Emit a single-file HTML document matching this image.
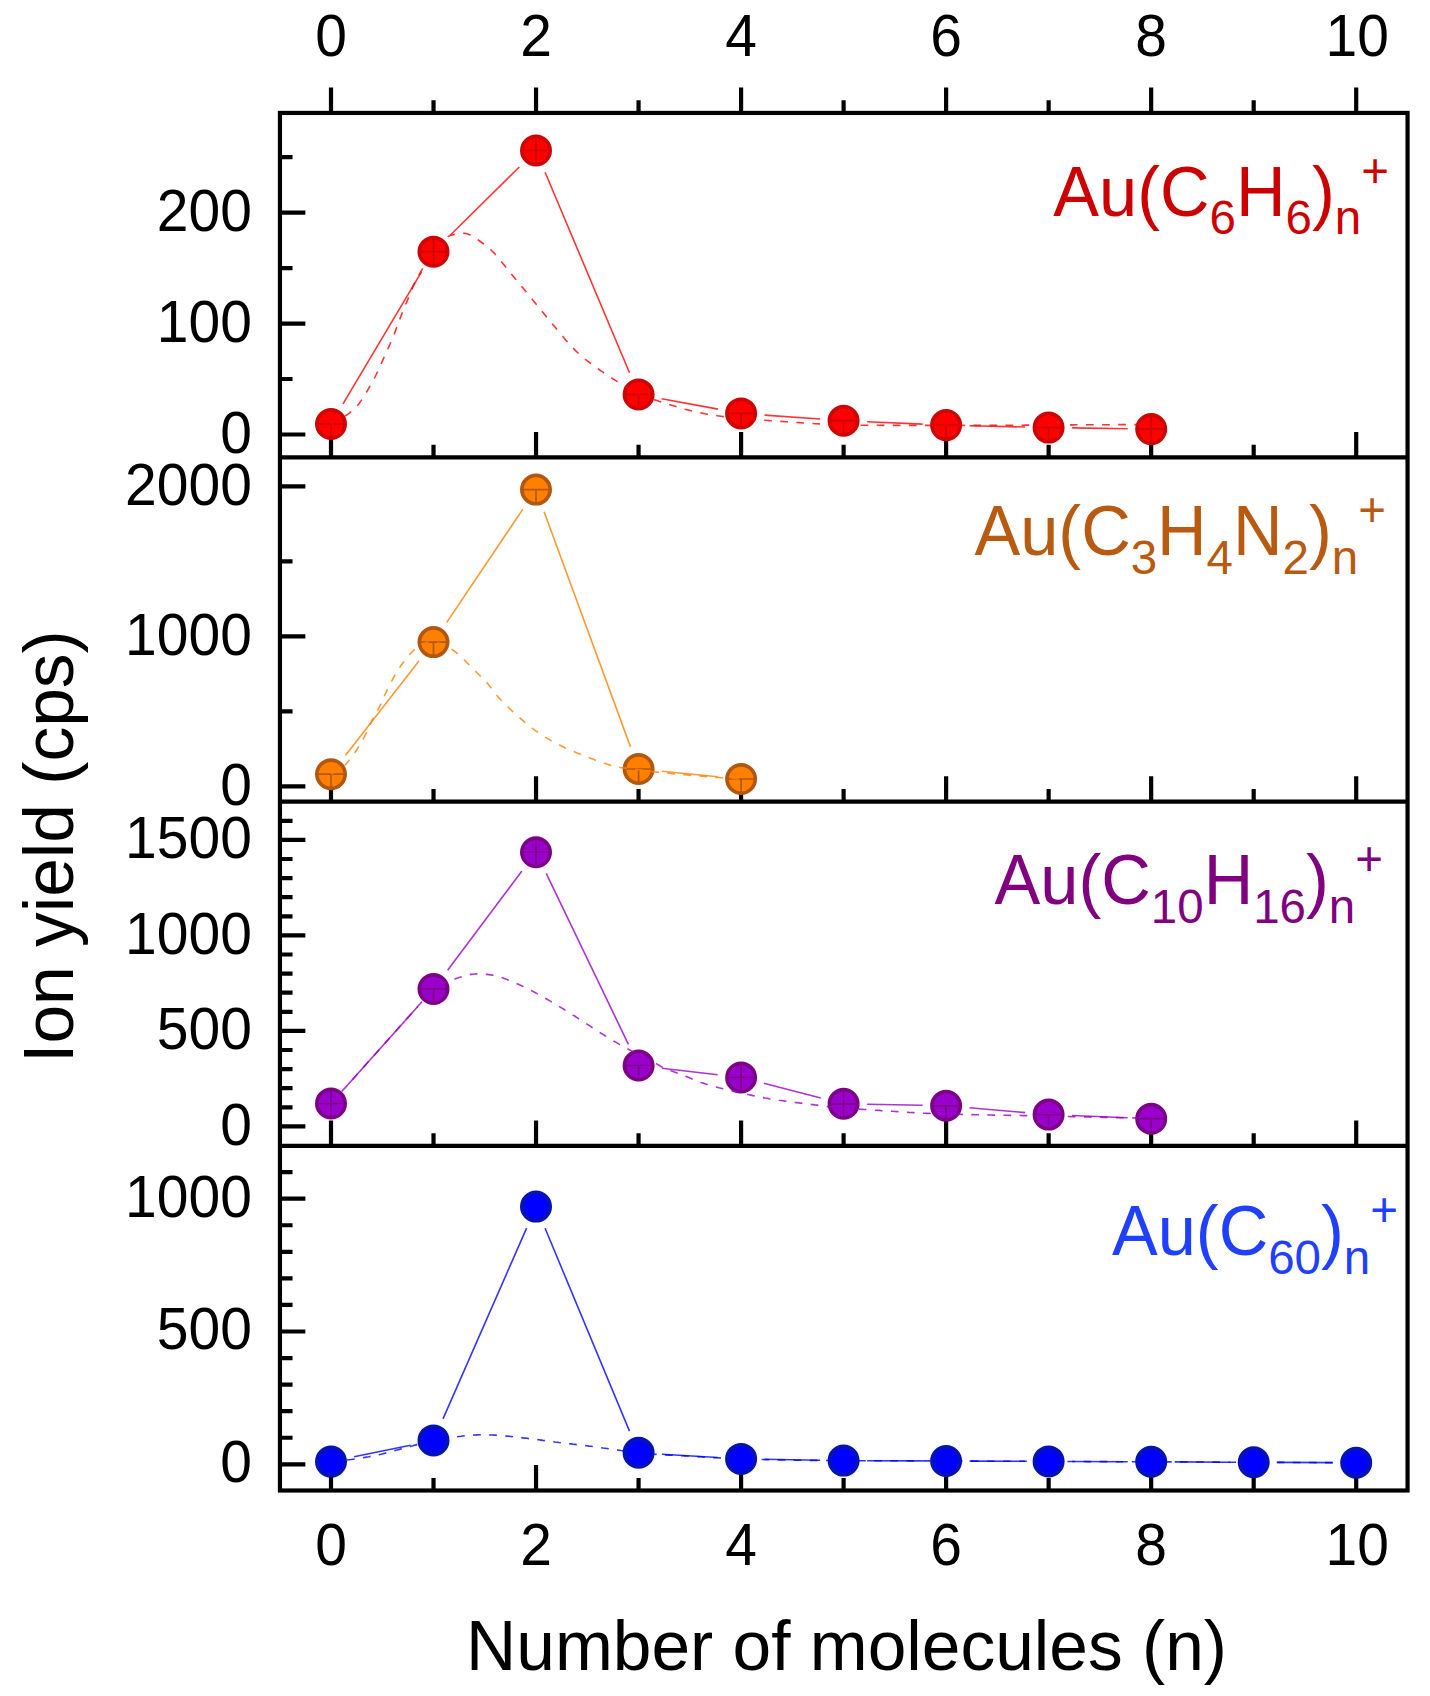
<!DOCTYPE html>
<html><head><meta charset="utf-8"><title>Ion yield</title>
<style>html,body{margin:0;padding:0;background:#fff}svg{display:block}</style>
</head><body>
<svg width="1430" height="1696" viewBox="0 0 1430 1696" font-family="'Liberation Sans', Arial, sans-serif">
<rect width="1430" height="1696" fill="#fff"/>
<g stroke="#000" stroke-width="4.2" fill="none" stroke-linecap="butt">
<rect x="279.95" y="112.95" width="1127.6" height="1377.55"/>
<line x1="279.95" y1="457.45" x2="1407.55" y2="457.45"/>
<line x1="279.95" y1="801.65" x2="1407.55" y2="801.65"/>
<line x1="279.95" y1="1145.95" x2="1407.55" y2="1145.95"/>
<path d="M331.00 112.95 v-25.4 M433.52 112.95 v-12.6 M536.04 112.95 v-25.4 M638.56 112.95 v-12.6 M741.08 112.95 v-25.4 M843.60 112.95 v-12.6 M946.12 112.95 v-25.4 M1048.64 112.95 v-12.6 M1151.16 112.95 v-25.4 M1253.68 112.95 v-12.6 M1356.20 112.95 v-25.4 M331.00 457.45 v-25.4 M433.52 457.45 v-12.6 M536.04 457.45 v-25.4 M638.56 457.45 v-12.6 M741.08 457.45 v-25.4 M843.60 457.45 v-12.6 M946.12 457.45 v-25.4 M1048.64 457.45 v-12.6 M1151.16 457.45 v-25.4 M1253.68 457.45 v-12.6 M1356.20 457.45 v-25.4 M331.00 801.65 v-25.4 M433.52 801.65 v-12.6 M536.04 801.65 v-25.4 M638.56 801.65 v-12.6 M741.08 801.65 v-25.4 M843.60 801.65 v-12.6 M946.12 801.65 v-25.4 M1048.64 801.65 v-12.6 M1151.16 801.65 v-25.4 M1253.68 801.65 v-12.6 M1356.20 801.65 v-25.4 M331.00 1145.95 v-25.4 M433.52 1145.95 v-12.6 M536.04 1145.95 v-25.4 M638.56 1145.95 v-12.6 M741.08 1145.95 v-25.4 M843.60 1145.95 v-12.6 M946.12 1145.95 v-25.4 M1048.64 1145.95 v-12.6 M1151.16 1145.95 v-25.4 M1253.68 1145.95 v-12.6 M1356.20 1145.95 v-25.4 M331.00 1490.5 v-25.4 M433.52 1490.5 v-12.6 M536.04 1490.5 v-25.4 M638.56 1490.5 v-12.6 M741.08 1490.5 v-25.4 M843.60 1490.5 v-12.6 M946.12 1490.5 v-25.4 M1048.64 1490.5 v-12.6 M1151.16 1490.5 v-25.4 M1253.68 1490.5 v-12.6 M1356.20 1490.5 v-25.4"/>
<path d="M279.95 434.50 h25.4 M279.95 323.55 h25.4 M279.95 212.60 h25.4 M279.95 379.02 h12.6 M279.95 268.08 h12.6 M279.95 157.12 h12.6 M279.95 786.40 h25.4 M279.95 636.40 h25.4 M279.95 486.40 h25.4 M279.95 711.40 h12.6 M279.95 561.40 h12.6 M279.95 1126.40 h25.4 M279.95 1030.90 h25.4 M279.95 935.40 h25.4 M279.95 839.90 h25.4 M279.95 1107.30 h12.6 M279.95 1088.20 h12.6 M279.95 1069.10 h12.6 M279.95 1050.00 h12.6 M279.95 1011.80 h12.6 M279.95 992.70 h12.6 M279.95 973.60 h12.6 M279.95 954.50 h12.6 M279.95 916.30 h12.6 M279.95 897.20 h12.6 M279.95 878.10 h12.6 M279.95 859.00 h12.6 M279.95 820.80 h12.6 M279.95 1464.30 h25.4 M279.95 1331.50 h25.4 M279.95 1198.70 h25.4 M279.95 1437.74 h12.6 M279.95 1411.18 h12.6 M279.95 1384.62 h12.6 M279.95 1358.06 h12.6 M279.95 1304.94 h12.6 M279.95 1278.38 h12.6 M279.95 1251.82 h12.6 M279.95 1225.26 h12.6 M279.95 1172.14 h12.6"/>
</g>
<g font-size="57.0" fill="#000">
<text transform="translate(331.0 55.5) scale(1 1.035)" text-anchor="middle">0</text>
<text transform="translate(331.0 1565.0) scale(1 1.035)" text-anchor="middle">0</text>
<text transform="translate(536.0 55.5) scale(1 1.035)" text-anchor="middle">2</text>
<text transform="translate(536.0 1565.0) scale(1 1.035)" text-anchor="middle">2</text>
<text transform="translate(741.1 55.5) scale(1 1.035)" text-anchor="middle">4</text>
<text transform="translate(741.1 1565.0) scale(1 1.035)" text-anchor="middle">4</text>
<text transform="translate(946.1 55.5) scale(1 1.035)" text-anchor="middle">6</text>
<text transform="translate(946.1 1565.0) scale(1 1.035)" text-anchor="middle">6</text>
<text transform="translate(1151.2 55.5) scale(1 1.035)" text-anchor="middle">8</text>
<text transform="translate(1151.2 1565.0) scale(1 1.035)" text-anchor="middle">8</text>
<text transform="translate(1357.2 55.5) scale(1 1.035)" text-anchor="middle">10</text>
<text transform="translate(1357.2 1565.0) scale(1 1.035)" text-anchor="middle">10</text>
<text transform="translate(251.9 453.0) scale(1 1.035)" text-anchor="end">0</text>
<text transform="translate(251.9 342.1) scale(1 1.035)" text-anchor="end">100</text>
<text transform="translate(251.9 231.1) scale(1 1.035)" text-anchor="end">200</text>
<text transform="translate(251.9 804.9) scale(1 1.035)" text-anchor="end">0</text>
<text transform="translate(251.9 654.9) scale(1 1.035)" text-anchor="end">1000</text>
<text transform="translate(251.9 504.9) scale(1 1.035)" text-anchor="end">2000</text>
<text transform="translate(251.9 1144.9) scale(1 1.035)" text-anchor="end">0</text>
<text transform="translate(251.9 1049.4) scale(1 1.035)" text-anchor="end">500</text>
<text transform="translate(251.9 953.9) scale(1 1.035)" text-anchor="end">1000</text>
<text transform="translate(251.9 858.4) scale(1 1.035)" text-anchor="end">1500</text>
<text transform="translate(251.9 1482.1) scale(1 1.035)" text-anchor="end">0</text>
<text transform="translate(251.9 1349.3) scale(1 1.035)" text-anchor="end">500</text>
<text transform="translate(251.9 1216.5) scale(1 1.035)" text-anchor="end">1000</text>
</g>
<text x="846.5" y="1669.5" font-size="69.5" text-anchor="middle" fill="#000">Number of molecules (n)</text>
<text transform="translate(72.5 846.6) rotate(-90)" font-size="69.5" text-anchor="middle" fill="#000">Ion yield (cps)</text>
<path d="M343.0 403.8L421.5 271.9M450.2 235.2L519.3 167.0M545.1 172.2L629.5 372.8M661.7 398.8L718.0 409.1M764.5 415.1L820.2 419.0M867.1 421.7L922.6 424.1M969.6 425.7L1025.1 427.0M1072.1 427.9L1127.7 428.8" fill="none" stroke="#ff0000" stroke-opacity="0.8" stroke-width="1.6"/>
<circle cx="331.0" cy="424.0" r="14.15" fill="#ff0000" stroke="#cc0505" stroke-width="3.7"/>
<path d="M318.0 424.0h26M331.0 424.0v13" stroke="#cc0505" stroke-width="1.7" fill="none"/>
<circle cx="433.5" cy="251.7" r="14.15" fill="#ff0000" stroke="#cc0505" stroke-width="3.7"/>
<path d="M420.5 251.7h26M433.5 251.7v13M433.5 251.7v-13" stroke="#cc0505" stroke-width="1.7" fill="none"/>
<circle cx="536.0" cy="150.5" r="14.15" fill="#ff0000" stroke="#cc0505" stroke-width="3.7"/>
<path d="M523.0 150.5h26M536.0 150.5v13M536.0 150.5v-13" stroke="#cc0505" stroke-width="1.7" fill="none"/>
<circle cx="638.6" cy="394.5" r="14.15" fill="#ff0000" stroke="#cc0505" stroke-width="3.7"/>
<path d="M625.6 394.5h26M638.6 394.5v13" stroke="#cc0505" stroke-width="1.7" fill="none"/>
<circle cx="741.1" cy="413.4" r="14.15" fill="#ff0000" stroke="#cc0505" stroke-width="3.7"/>
<path d="M728.1 413.4h26M741.1 413.4v13" stroke="#cc0505" stroke-width="1.7" fill="none"/>
<circle cx="843.6" cy="420.7" r="14.15" fill="#ff0000" stroke="#cc0505" stroke-width="3.7"/>
<path d="M830.6 420.7h26M843.6 420.7v13" stroke="#cc0505" stroke-width="1.7" fill="none"/>
<circle cx="946.1" cy="425.1" r="14.15" fill="#ff0000" stroke="#cc0505" stroke-width="3.7"/>
<path d="M933.1 425.1h26M946.1 425.1v13" stroke="#cc0505" stroke-width="1.7" fill="none"/>
<circle cx="1048.6" cy="427.6" r="14.15" fill="#ff0000" stroke="#cc0505" stroke-width="3.7"/>
<path d="M1035.6 427.6h26M1048.6 427.6v13" stroke="#cc0505" stroke-width="1.7" fill="none"/>
<circle cx="1151.2" cy="429.1" r="14.15" fill="#ff0000" stroke="#cc0505" stroke-width="3.7"/>
<path d="M1138.2 429.1h26M1151.2 429.1v13M1151.2 429.1v-13" stroke="#cc0505" stroke-width="1.7" fill="none"/>
<polyline points="331.0,424.0 333.0,423.2 335.0,422.2 337.0,421.2 339.0,420.1 341.0,418.8 343.0,417.6 345.0,416.2 347.0,414.8 349.0,413.4 351.0,411.8 353.0,410.1 355.0,408.2 357.0,406.1 359.0,403.7 361.0,400.9 363.0,397.9 365.0,394.7 367.0,391.3 369.0,387.8 371.0,384.3 373.0,380.8 375.0,377.0 377.0,372.8 379.0,368.5 381.0,364.1 383.0,359.7 385.0,355.3 387.0,350.9 389.0,346.5 391.0,341.9 393.0,337.1 395.0,332.1 397.0,326.9 399.0,321.4 401.0,316.1 403.0,311.1 405.0,306.3 407.0,301.4 409.0,296.5 411.0,291.5 413.0,286.6 415.0,282.2 417.0,278.5 419.0,274.9 421.0,271.4 423.0,267.9 425.0,264.6 427.0,261.3 429.0,258.1 431.0,255.0 433.0,252.1 435.0,249.3 437.0,246.6 439.0,244.2 441.0,242.1 443.0,240.2 445.0,238.5 447.0,237.2 449.0,236.1 451.0,235.3 453.0,234.7 455.0,234.2 457.0,233.9 459.0,233.6 461.0,233.4 463.0,233.3 465.0,233.4 467.0,233.8 469.0,234.4 471.0,235.4 473.0,236.5 475.0,237.8 477.0,239.1 479.0,240.5 481.0,242.0 483.0,243.5 485.0,245.1 487.0,246.6 489.0,248.3 491.0,250.0 493.0,251.9 495.0,254.0 497.0,256.4 499.0,258.8 501.0,261.3 503.0,263.7 505.0,266.1 507.0,268.6 509.0,271.0 511.0,273.5 513.0,275.9 515.0,278.4 517.0,280.8 519.0,283.2 521.0,285.7 523.0,288.1 525.0,290.6 527.0,293.0 529.0,295.5 531.0,297.9 533.0,300.3 535.0,302.8 537.0,305.2 539.0,307.7 541.0,310.1 543.0,312.5 545.0,314.9 547.0,317.4 549.0,319.8 551.0,322.2 553.0,324.7 555.0,327.1 557.0,329.5 559.0,331.9 561.0,334.4 563.0,336.8 565.0,339.2 567.0,341.5 569.0,343.8 571.0,346.0 573.0,348.0 575.0,350.1 577.0,352.0 579.0,353.9 581.0,355.7 583.0,357.4 585.0,359.1 587.0,360.7 589.0,362.2 591.0,363.7 593.0,365.2 595.0,366.7 597.0,368.1 599.0,369.5 601.0,370.9 603.0,372.2 605.0,373.6 607.0,374.9 609.0,376.2 611.0,377.5 613.0,378.8 615.0,380.1 617.0,381.4 619.0,382.6 621.0,383.9 623.0,385.2 625.0,386.5 627.0,387.8 629.0,389.1 631.0,390.3 633.0,391.5 635.0,392.6 637.0,393.6 639.0,394.5 641.0,395.3 643.0,396.1 645.0,396.8 647.0,397.5 649.0,398.1 651.0,398.8 653.0,399.4 655.0,400.0 657.0,400.6 659.0,401.3 661.0,401.9 663.0,402.5 665.0,403.2 667.0,403.8 669.0,404.4 671.0,405.1 673.0,405.7 675.0,406.3 677.0,406.9 679.0,407.5 681.0,408.1 683.0,408.6 685.0,409.2 687.0,409.7 689.0,410.2 691.0,410.7 693.0,411.2 695.0,411.7 697.0,412.1 699.0,412.6 701.0,413.0 703.0,413.4 705.0,413.8 707.0,414.1 709.0,414.5 711.0,414.8 713.0,415.1 715.0,415.4 717.0,415.7 719.0,416.0 721.0,416.3 723.0,416.6 725.0,416.9 727.0,417.1 729.0,417.4 731.0,417.6 733.0,417.9 735.0,418.1 737.0,418.3 739.0,418.5 741.0,418.7 743.0,418.8 745.0,419.0 747.0,419.1 749.0,419.2 751.0,419.4 753.0,419.5 755.0,419.6 757.0,419.8 759.0,419.9 761.0,420.0 763.0,420.2 765.0,420.3 767.0,420.5 769.0,420.6 771.0,420.7 773.0,420.9 775.0,421.0 777.0,421.1 779.0,421.3 781.0,421.4 783.0,421.5 785.0,421.7 787.0,421.8 789.0,421.9 791.0,422.1 793.0,422.2 795.0,422.3 797.0,422.5 799.0,422.6 801.0,422.7 803.0,422.9 805.0,423.0 807.0,423.1 809.0,423.3 811.0,423.4 813.0,423.5 815.0,423.7 817.0,423.8 819.0,423.9 821.0,424.1 823.0,424.2 825.0,424.3 827.0,424.4 829.0,424.5 831.0,424.6 833.0,424.7 835.0,424.8 837.0,424.8 839.0,424.9 841.0,424.9 843.0,425.0 845.0,425.0 847.0,425.0 849.0,425.1 851.0,425.1 853.0,425.1 855.0,425.1 857.0,425.2 859.0,425.2 861.0,425.2 863.0,425.2 865.0,425.2 867.0,425.3 869.0,425.3 871.0,425.3 873.0,425.3 875.0,425.3 877.0,425.3 879.0,425.3 881.0,425.4 883.0,425.4 885.0,425.4 887.0,425.4 889.0,425.4 891.0,425.4 893.0,425.4 895.0,425.4 897.0,425.4 899.0,425.4 901.0,425.4 903.0,425.4 905.0,425.4 907.0,425.4 909.0,425.4 911.0,425.4 913.0,425.4 915.0,425.4 917.0,425.4 919.0,425.4 921.0,425.4 923.0,425.4 925.0,425.4 927.0,425.4 929.0,425.4 931.0,425.4 933.0,425.4 935.0,425.4 937.0,425.4 939.0,425.4 941.0,425.4 943.0,425.4 945.0,425.4 947.0,425.4 949.0,425.4 951.0,425.4 953.0,425.4 955.0,425.4 957.0,425.4 959.0,425.4 961.0,425.4 963.0,425.4 965.0,425.4 967.0,425.4 969.0,425.4 971.0,425.4 973.0,425.4 975.0,425.4 977.0,425.4 979.0,425.4 981.0,425.4 983.0,425.4 985.0,425.4 987.0,425.4 989.0,425.3 991.0,425.3 993.0,425.3 995.0,425.3 997.0,425.3 999.0,425.3 1001.0,425.3 1003.0,425.3 1005.0,425.3 1007.0,425.3 1009.0,425.2 1011.0,425.2 1013.0,425.2 1015.0,425.2 1017.0,425.2 1019.0,425.2 1021.0,425.2 1023.0,425.2 1025.0,425.1 1027.0,425.1 1029.0,425.1 1031.0,425.1 1033.0,425.1 1035.0,425.1 1037.0,425.1 1039.0,425.1 1041.0,425.0 1043.0,425.0 1045.0,425.0 1047.0,425.0 1049.0,425.0 1051.0,425.0 1053.0,425.0 1055.0,425.0 1057.0,424.9 1059.0,424.9 1061.0,424.9 1063.0,424.9 1065.0,424.9 1067.0,424.9 1069.0,424.9 1071.0,424.9 1073.0,424.9 1075.0,424.8 1077.0,424.8 1079.0,424.8 1081.0,424.8 1083.0,424.8 1085.0,424.8 1087.0,424.8 1089.0,424.8 1091.0,424.7 1093.0,424.7 1095.0,424.7 1097.0,424.7 1099.0,424.7 1101.0,424.7 1103.0,424.7 1105.0,424.7 1107.0,424.7 1109.0,424.7 1111.0,424.7 1113.0,424.6 1115.0,424.6 1117.0,424.6 1119.0,424.6 1121.0,424.6 1123.0,424.6 1125.0,424.6 1127.0,424.6 1129.0,424.6 1131.0,424.6 1133.0,424.6 1135.0,424.6 1137.0,424.6 1139.0,424.6 1141.0,424.6 1143.0,424.6 1145.0,424.6 1147.0,424.6 1149.0,424.6" fill="none" stroke="#ff0000" stroke-opacity="0.8" stroke-width="1.6" stroke-dasharray="7.7 8.4"/>
<path d="M345.4 755.6L419.1 660.7M446.6 622.6L522.9 509.1M544.1 511.7L630.5 746.9M661.9 771.3L717.7 776.7" fill="none" stroke="#ff8000" stroke-opacity="0.8" stroke-width="1.6"/>
<circle cx="331.0" cy="774.2" r="14.15" fill="#ff8000" stroke="#b2570f" stroke-width="3.7"/>
<path d="M318.0 774.2h26M331.0 774.2v13" stroke="#b2570f" stroke-width="1.7" fill="none"/>
<circle cx="433.5" cy="642.1" r="14.15" fill="#ff8000" stroke="#b2570f" stroke-width="3.7"/>
<path d="M420.5 642.1h26M433.5 642.1v13" stroke="#b2570f" stroke-width="1.7" fill="none"/>
<circle cx="536.0" cy="489.6" r="14.15" fill="#ff8000" stroke="#b2570f" stroke-width="3.7"/>
<path d="M523.0 489.6h26M536.0 489.6v13" stroke="#b2570f" stroke-width="1.7" fill="none"/>
<circle cx="638.6" cy="769.0" r="14.15" fill="#ff8000" stroke="#b2570f" stroke-width="3.7"/>
<path d="M625.6 769.0h26M638.6 769.0v13" stroke="#b2570f" stroke-width="1.7" fill="none"/>
<circle cx="741.1" cy="779.0" r="14.15" fill="#ff8000" stroke="#b2570f" stroke-width="3.7"/>
<path d="M728.1 779.0h26M741.1 779.0v13" stroke="#b2570f" stroke-width="1.7" fill="none"/>
<polyline points="331.0,774.0 333.0,773.3 335.0,772.4 337.0,771.4 339.0,770.1 341.0,768.6 343.0,767.0 345.0,765.0 347.0,762.8 349.0,760.5 351.0,757.9 353.0,755.2 355.0,752.4 357.0,749.3 359.0,746.2 361.0,742.9 363.0,739.4 365.0,735.7 367.0,731.7 369.0,727.2 371.0,722.6 373.0,718.4 375.0,714.9 377.0,711.5 379.0,707.8 381.0,703.5 383.0,698.9 385.0,694.5 387.0,690.3 389.0,686.3 391.0,682.4 393.0,678.6 395.0,675.0 397.0,671.7 399.0,668.5 401.0,665.5 403.0,662.7 405.0,660.1 407.0,657.6 409.0,655.3 411.0,653.1 413.0,651.0 415.0,649.0 417.0,647.3 419.0,645.8 421.0,644.6 423.0,643.6 425.0,642.9 427.0,642.4 429.0,642.0 431.0,641.9 433.0,642.0 435.0,642.2 437.0,642.6 439.0,643.1 441.0,643.7 443.0,644.4 445.0,645.3 447.0,646.2 449.0,647.3 451.0,648.6 453.0,650.1 455.0,651.6 457.0,653.2 459.0,654.9 461.0,656.8 463.0,658.7 465.0,660.7 467.0,662.7 469.0,664.7 471.0,666.7 473.0,668.7 475.0,670.7 477.0,672.7 479.0,674.7 481.0,676.7 483.0,678.7 485.0,680.7 487.0,682.8 489.0,685.2 491.0,687.7 493.0,690.3 495.0,693.0 497.0,695.5 499.0,697.9 501.0,700.0 503.0,702.1 505.0,704.1 507.0,706.1 509.0,708.0 511.0,709.9 513.0,711.8 515.0,713.6 517.0,715.4 519.0,717.1 521.0,718.9 523.0,720.6 525.0,722.3 527.0,723.9 529.0,725.6 531.0,727.2 533.0,728.8 535.0,730.3 537.0,731.7 539.0,733.1 541.0,734.5 543.0,735.8 545.0,737.1 547.0,738.3 549.0,739.4 551.0,740.6 553.0,741.6 555.0,742.7 557.0,743.8 559.0,744.8 561.0,745.8 563.0,746.8 565.0,747.8 567.0,748.7 569.0,749.6 571.0,750.4 573.0,751.3 575.0,752.1 577.0,752.9 579.0,753.7 581.0,754.5 583.0,755.3 585.0,756.1 587.0,756.9 589.0,757.6 591.0,758.4 593.0,759.1 595.0,759.9 597.0,760.6 599.0,761.3 601.0,762.0 603.0,762.7 605.0,763.4 607.0,764.1 609.0,764.7 611.0,765.3 613.0,765.9 615.0,766.4 617.0,766.8 619.0,767.2 621.0,767.6 623.0,767.9 625.0,768.1 627.0,768.4 629.0,768.6 631.0,768.8 633.0,769.0 635.0,769.2 637.0,769.4 639.0,769.7 641.0,769.9 643.0,770.2 645.0,770.5 647.0,770.8 649.0,771.1 651.0,771.4 653.0,771.6 655.0,771.9 657.0,772.1 659.0,772.3 661.0,772.5 663.0,772.7 665.0,772.9 667.0,773.1 669.0,773.3 671.0,773.5 673.0,773.7 675.0,773.9 677.0,774.0 679.0,774.2 681.0,774.4 683.0,774.6 685.0,774.8 687.0,774.9 689.0,775.1 691.0,775.3 693.0,775.4 695.0,775.6 697.0,775.8 699.0,775.9 701.0,776.1 703.0,776.2 705.0,776.4 707.0,776.6 709.0,776.7 711.0,776.9 713.0,777.0 715.0,777.2 717.0,777.4 719.0,777.5 721.0,777.7 723.0,777.8 725.0,778.0 727.0,778.1 729.0,778.3 731.0,778.5 733.0,778.6 735.0,778.8 737.0,778.9 739.0,779.0 741.0,779.2" fill="none" stroke="#ff8000" stroke-opacity="0.8" stroke-width="1.6" stroke-dasharray="7.7 8.4"/>
<path d="M346.7 1086.0L417.8 1006.5M447.6 970.2L521.9 871.0M546.2 873.4L628.4 1044.3M661.9 1068.2L717.7 1074.8M763.8 1083.3L820.8 1098.0M867.1 1104.3L922.6 1105.3M969.5 1107.8L1025.2 1112.6M1072.1 1115.5L1127.7 1117.8" fill="none" stroke="#9900cc" stroke-opacity="0.8" stroke-width="1.6"/>
<circle cx="331.0" cy="1103.5" r="14.15" fill="#9900cc" stroke="#7e0086" stroke-width="3.7"/>
<path d="M318.0 1103.5h26M331.0 1103.5v13M331.0 1103.5v-13" stroke="#7e0086" stroke-width="1.7" fill="none"/>
<circle cx="433.5" cy="989.0" r="14.15" fill="#9900cc" stroke="#7e0086" stroke-width="3.7"/>
<path d="M420.5 989.0h26M433.5 989.0v13" stroke="#7e0086" stroke-width="1.7" fill="none"/>
<circle cx="536.0" cy="852.2" r="14.15" fill="#9900cc" stroke="#7e0086" stroke-width="3.7"/>
<path d="M523.0 852.2h26M536.0 852.2v13M536.0 852.2v-13" stroke="#7e0086" stroke-width="1.7" fill="none"/>
<circle cx="638.6" cy="1065.5" r="14.15" fill="#9900cc" stroke="#7e0086" stroke-width="3.7"/>
<path d="M625.6 1065.5h26M638.6 1065.5v13" stroke="#7e0086" stroke-width="1.7" fill="none"/>
<circle cx="741.1" cy="1077.5" r="14.15" fill="#9900cc" stroke="#7e0086" stroke-width="3.7"/>
<path d="M728.1 1077.5h26M741.1 1077.5v13M741.1 1077.5v-13" stroke="#7e0086" stroke-width="1.7" fill="none"/>
<circle cx="843.6" cy="1103.8" r="14.15" fill="#9900cc" stroke="#7e0086" stroke-width="3.7"/>
<path d="M830.6 1103.8h26M843.6 1103.8v13M843.6 1103.8v-13" stroke="#7e0086" stroke-width="1.7" fill="none"/>
<circle cx="946.1" cy="1105.8" r="14.15" fill="#9900cc" stroke="#7e0086" stroke-width="3.7"/>
<path d="M933.1 1105.8h26M946.1 1105.8v13" stroke="#7e0086" stroke-width="1.7" fill="none"/>
<circle cx="1048.6" cy="1114.6" r="14.15" fill="#9900cc" stroke="#7e0086" stroke-width="3.7"/>
<path d="M1035.6 1114.6h26M1048.6 1114.6v13" stroke="#7e0086" stroke-width="1.7" fill="none"/>
<circle cx="1151.2" cy="1118.7" r="14.15" fill="#9900cc" stroke="#7e0086" stroke-width="3.7"/>
<path d="M1138.2 1118.7h26M1151.2 1118.7v13" stroke="#7e0086" stroke-width="1.7" fill="none"/>
<polyline points="331.0,1103.5 333.0,1101.3 335.0,1099.0 337.0,1096.8 339.0,1094.6 341.0,1092.4 343.0,1090.1 345.0,1087.9 347.0,1085.7 349.0,1083.4 351.0,1081.2 353.0,1079.0 355.0,1076.7 357.0,1074.5 359.0,1072.3 361.0,1070.0 363.0,1067.8 365.0,1065.6 367.0,1063.3 369.0,1061.1 371.0,1058.9 373.0,1056.6 375.0,1054.4 377.0,1052.2 379.0,1049.9 381.0,1047.7 383.0,1045.5 385.0,1043.2 387.0,1041.0 389.0,1038.8 391.0,1036.5 393.0,1034.3 395.0,1032.0 397.0,1029.8 399.0,1027.5 401.0,1025.2 403.0,1023.0 405.0,1020.7 407.0,1018.5 409.0,1016.2 411.0,1014.0 413.0,1011.7 415.0,1009.5 417.0,1007.2 419.0,1005.0 421.0,1002.7 423.0,1000.5 425.0,998.3 427.0,996.1 429.0,993.8 431.0,991.6 433.0,989.4 435.0,987.4 437.0,985.8 439.0,984.7 441.0,983.8 443.0,983.1 445.0,982.5 447.0,982.0 449.0,981.4 451.0,980.6 453.0,979.8 455.0,979.1 457.0,978.3 459.0,977.6 461.0,976.9 463.0,976.3 465.0,975.7 467.0,975.1 469.0,974.7 471.0,974.4 473.0,974.2 475.0,974.0 477.0,973.9 479.0,973.9 481.0,974.0 483.0,974.1 485.0,974.2 487.0,974.4 489.0,974.6 491.0,974.9 493.0,975.2 495.0,975.6 497.0,976.1 499.0,976.6 501.0,977.2 503.0,978.0 505.0,978.7 507.0,979.5 509.0,980.3 511.0,981.1 513.0,981.9 515.0,982.8 517.0,983.7 519.0,984.6 521.0,985.5 523.0,986.5 525.0,987.4 527.0,988.4 529.0,989.4 531.0,990.4 533.0,991.4 535.0,992.5 537.0,993.6 539.0,994.7 541.0,995.8 543.0,996.9 545.0,998.1 547.0,999.2 549.0,1000.4 551.0,1001.6 553.0,1002.8 555.0,1004.0 557.0,1005.2 559.0,1006.4 561.0,1007.6 563.0,1008.8 565.0,1010.1 567.0,1011.3 569.0,1012.6 571.0,1013.8 573.0,1015.1 575.0,1016.3 577.0,1017.6 579.0,1018.9 581.0,1020.1 583.0,1021.4 585.0,1022.8 587.0,1024.1 589.0,1025.4 591.0,1026.7 593.0,1028.1 595.0,1029.4 597.0,1030.6 599.0,1031.9 601.0,1033.2 603.0,1034.4 605.0,1035.7 607.0,1036.9 609.0,1038.2 611.0,1039.4 613.0,1040.6 615.0,1041.8 617.0,1042.9 619.0,1044.1 621.0,1045.2 623.0,1046.3 625.0,1047.4 627.0,1048.5 629.0,1049.5 631.0,1050.6 633.0,1051.6 635.0,1052.6 637.0,1053.7 639.0,1054.7 641.0,1055.7 643.0,1056.8 645.0,1057.8 647.0,1058.9 649.0,1059.9 651.0,1060.9 653.0,1062.0 655.0,1063.0 657.0,1064.1 659.0,1065.3 661.0,1066.5 663.0,1067.5 665.0,1068.4 667.0,1069.3 669.0,1070.0 671.0,1070.8 673.0,1071.5 675.0,1072.2 677.0,1072.9 679.0,1073.6 681.0,1074.4 683.0,1075.2 685.0,1076.0 687.0,1076.8 689.0,1077.6 691.0,1078.5 693.0,1079.3 695.0,1080.1 697.0,1080.9 699.0,1081.6 701.0,1082.4 703.0,1083.1 705.0,1083.8 707.0,1084.4 709.0,1085.0 711.0,1085.6 713.0,1086.2 715.0,1086.7 717.0,1087.2 719.0,1087.8 721.0,1088.2 723.0,1088.7 725.0,1089.2 727.0,1089.7 729.0,1090.2 731.0,1090.7 733.0,1091.1 735.0,1091.6 737.0,1092.1 739.0,1092.5 741.0,1093.0 743.0,1093.4 745.0,1093.8 747.0,1094.3 749.0,1094.7 751.0,1095.1 753.0,1095.6 755.0,1096.0 757.0,1096.4 759.0,1096.8 761.0,1097.2 763.0,1097.6 765.0,1098.0 767.0,1098.3 769.0,1098.7 771.0,1099.0 773.0,1099.4 775.0,1099.7 777.0,1100.0 779.0,1100.3 781.0,1100.5 783.0,1100.8 785.0,1101.1 787.0,1101.3 789.0,1101.6 791.0,1101.8 793.0,1102.1 795.0,1102.4 797.0,1102.6 799.0,1102.9 801.0,1103.1 803.0,1103.4 805.0,1103.6 807.0,1103.9 809.0,1104.1 811.0,1104.4 813.0,1104.6 815.0,1104.9 817.0,1105.1 819.0,1105.4 821.0,1105.6 823.0,1105.9 825.0,1106.1 827.0,1106.4 829.0,1106.6 831.0,1106.8 833.0,1107.0 835.0,1107.2 837.0,1107.4 839.0,1107.6 841.0,1107.8 843.0,1108.0 845.0,1108.1 847.0,1108.3 849.0,1108.4 851.0,1108.5 853.0,1108.7 855.0,1108.8 857.0,1109.0 859.0,1109.1 861.0,1109.2 863.0,1109.4 865.0,1109.5 867.0,1109.6 869.0,1109.8 871.0,1109.9 873.0,1110.0 875.0,1110.2 877.0,1110.3 879.0,1110.4 881.0,1110.6 883.0,1110.7 885.0,1110.8 887.0,1111.0 889.0,1111.1 891.0,1111.2 893.0,1111.3 895.0,1111.5 897.0,1111.6 899.0,1111.7 901.0,1111.9 903.0,1112.0 905.0,1112.1 907.0,1112.2 909.0,1112.4 911.0,1112.5 913.0,1112.6 915.0,1112.7 917.0,1112.8 919.0,1112.9 921.0,1113.1 923.0,1113.2 925.0,1113.3 927.0,1113.4 929.0,1113.4 931.0,1113.5 933.0,1113.6 935.0,1113.7 937.0,1113.7 939.0,1113.8 941.0,1113.9 943.0,1113.9 945.0,1114.0 947.0,1114.0 949.0,1114.1 951.0,1114.1 953.0,1114.2 955.0,1114.2 957.0,1114.3 959.0,1114.3 961.0,1114.4 963.0,1114.4 965.0,1114.5 967.0,1114.5 969.0,1114.6 971.0,1114.6 973.0,1114.6 975.0,1114.7 977.0,1114.7 979.0,1114.8 981.0,1114.8 983.0,1114.9 985.0,1114.9 987.0,1114.9 989.0,1115.0 991.0,1115.0 993.0,1115.1 995.0,1115.1 997.0,1115.1 999.0,1115.2 1001.0,1115.2 1003.0,1115.3 1005.0,1115.3 1007.0,1115.3 1009.0,1115.4 1011.0,1115.4 1013.0,1115.4 1015.0,1115.5 1017.0,1115.5 1019.0,1115.5 1021.0,1115.5 1023.0,1115.6 1025.0,1115.6 1027.0,1115.6 1029.0,1115.7 1031.0,1115.7 1033.0,1115.7 1035.0,1115.8 1037.0,1115.8 1039.0,1115.8 1041.0,1115.9 1043.0,1115.9 1045.0,1115.9 1047.0,1116.0 1049.0,1116.0 1051.0,1116.1 1053.0,1116.1 1055.0,1116.1 1057.0,1116.2 1059.0,1116.2 1061.0,1116.3 1063.0,1116.3 1065.0,1116.4 1067.0,1116.4 1069.0,1116.5 1071.0,1116.6 1073.0,1116.6 1075.0,1116.7 1077.0,1116.7 1079.0,1116.8 1081.0,1116.8 1083.0,1116.9 1085.0,1116.9 1087.0,1117.0 1089.0,1117.0 1091.0,1117.1 1093.0,1117.1 1095.0,1117.2 1097.0,1117.2 1099.0,1117.3 1101.0,1117.3 1103.0,1117.4 1105.0,1117.4 1107.0,1117.4 1109.0,1117.5 1111.0,1117.5 1113.0,1117.6 1115.0,1117.6 1117.0,1117.6 1119.0,1117.7 1121.0,1117.7 1123.0,1117.8 1125.0,1117.8 1127.0,1117.8 1129.0,1117.9 1131.0,1117.9 1133.0,1117.9 1135.0,1118.0 1137.0,1118.0 1139.0,1118.0 1141.0,1118.1 1143.0,1118.1 1145.0,1118.1 1147.0,1118.1 1149.0,1118.2" fill="none" stroke="#9900cc" stroke-opacity="0.8" stroke-width="1.6" stroke-dasharray="7.7 8.4"/>
<path d="M354.0 1456.8L410.5 1445.2M443.0 1418.9L526.6 1228.1M545.1 1228.3L629.5 1431.1M662.0 1454.2L717.6 1457.5M764.6 1459.3L820.1 1460.2M867.1 1460.7L922.6 1460.9M969.6 1461.1L1025.1 1461.3M1072.1 1461.5L1127.7 1461.7M1174.7 1461.9L1230.2 1462.2M1277.2 1462.4L1332.7 1462.6" fill="none" stroke="#0000ff" stroke-opacity="0.8" stroke-width="1.6"/>
<circle cx="331.0" cy="1461.6" r="13.95" fill="#0000ff" stroke="#0412b8" stroke-width="4.1"/>
<circle cx="433.5" cy="1440.4" r="13.95" fill="#0000ff" stroke="#0412b8" stroke-width="4.1"/>
<circle cx="536.0" cy="1206.6" r="13.95" fill="#0000ff" stroke="#0412b8" stroke-width="4.1"/>
<circle cx="638.6" cy="1452.8" r="13.95" fill="#0000ff" stroke="#0412b8" stroke-width="4.1"/>
<circle cx="741.1" cy="1458.9" r="13.95" fill="#0000ff" stroke="#0412b8" stroke-width="4.1"/>
<circle cx="843.6" cy="1460.6" r="13.95" fill="#0000ff" stroke="#0412b8" stroke-width="4.1"/>
<circle cx="946.1" cy="1461.0" r="13.95" fill="#0000ff" stroke="#0412b8" stroke-width="4.1"/>
<circle cx="1048.6" cy="1461.4" r="13.95" fill="#0000ff" stroke="#0412b8" stroke-width="4.1"/>
<circle cx="1151.2" cy="1461.8" r="13.95" fill="#0000ff" stroke="#0412b8" stroke-width="4.1"/>
<circle cx="1253.7" cy="1462.3" r="13.95" fill="#0000ff" stroke="#0412b8" stroke-width="4.1"/>
<circle cx="1356.2" cy="1462.7" r="13.95" fill="#0000ff" stroke="#0412b8" stroke-width="4.1"/>
<polyline points="331.0,1461.5 333.0,1461.3 335.0,1461.2 337.0,1461.0 339.0,1460.8 341.0,1460.6 343.0,1460.4 345.0,1460.2 347.0,1460.0 349.0,1459.7 351.0,1459.5 353.0,1459.2 355.0,1458.9 357.0,1458.6 359.0,1458.3 361.0,1458.0 363.0,1457.7 365.0,1457.4 367.0,1457.0 369.0,1456.7 371.0,1456.3 373.0,1456.0 375.0,1455.6 377.0,1455.2 379.0,1454.7 381.0,1454.3 383.0,1453.7 385.0,1453.2 387.0,1452.7 389.0,1452.1 391.0,1451.6 393.0,1451.0 395.0,1450.5 397.0,1450.0 399.0,1449.4 401.0,1448.9 403.0,1448.4 405.0,1447.8 407.0,1447.3 409.0,1446.7 411.0,1446.2 413.0,1445.7 415.0,1445.1 417.0,1444.6 419.0,1444.1 421.0,1443.6 423.0,1443.0 425.0,1442.5 427.0,1442.0 429.0,1441.5 431.0,1441.1 433.0,1440.6 435.0,1440.1 437.0,1439.7 439.0,1439.3 441.0,1438.9 443.0,1438.6 445.0,1438.3 447.0,1438.0 449.0,1437.7 451.0,1437.4 453.0,1437.2 455.0,1437.0 457.0,1436.7 459.0,1436.5 461.0,1436.3 463.0,1436.0 465.0,1435.8 467.0,1435.6 469.0,1435.4 471.0,1435.3 473.0,1435.1 475.0,1435.0 477.0,1434.9 479.0,1434.8 481.0,1434.8 483.0,1434.8 485.0,1434.8 487.0,1434.8 489.0,1434.9 491.0,1435.0 493.0,1435.0 495.0,1435.1 497.0,1435.3 499.0,1435.4 501.0,1435.5 503.0,1435.7 505.0,1435.9 507.0,1436.1 509.0,1436.3 511.0,1436.5 513.0,1436.7 515.0,1437.0 517.0,1437.2 519.0,1437.4 521.0,1437.6 523.0,1437.9 525.0,1438.1 527.0,1438.3 529.0,1438.6 531.0,1438.8 533.0,1439.1 535.0,1439.3 537.0,1439.6 539.0,1439.8 541.0,1440.1 543.0,1440.4 545.0,1440.6 547.0,1440.9 549.0,1441.2 551.0,1441.4 553.0,1441.7 555.0,1442.0 557.0,1442.2 559.0,1442.5 561.0,1442.7 563.0,1443.0 565.0,1443.2 567.0,1443.5 569.0,1443.7 571.0,1443.9 573.0,1444.2 575.0,1444.4 577.0,1444.6 579.0,1444.8 581.0,1445.1 583.0,1445.3 585.0,1445.6 587.0,1445.8 589.0,1446.1 591.0,1446.3 593.0,1446.6 595.0,1446.9 597.0,1447.1 599.0,1447.4 601.0,1447.7 603.0,1448.0 605.0,1448.2 607.0,1448.5 609.0,1448.8 611.0,1449.1 613.0,1449.4 615.0,1449.6 617.0,1449.9 619.0,1450.2 621.0,1450.5 623.0,1450.7 625.0,1451.0 627.0,1451.3 629.0,1451.6 631.0,1451.8 633.0,1452.1 635.0,1452.4 637.0,1452.6 639.0,1452.8 641.0,1453.0 643.0,1453.2 645.0,1453.4 647.0,1453.6 649.0,1453.8 651.0,1453.9 653.0,1454.1 655.0,1454.2 657.0,1454.4 659.0,1454.5 661.0,1454.6 663.0,1454.8 665.0,1454.9 667.0,1455.0 669.0,1455.1 671.0,1455.2 673.0,1455.3 675.0,1455.4 677.0,1455.5 679.0,1455.6 681.0,1455.7 683.0,1455.8 685.0,1455.9 687.0,1456.0 689.0,1456.1 691.0,1456.3 693.0,1456.4 695.0,1456.5 697.0,1456.6 699.0,1456.7 701.0,1456.8 703.0,1457.0 705.0,1457.1 707.0,1457.2 709.0,1457.3 711.0,1457.4 713.0,1457.6 715.0,1457.7 717.0,1457.8 719.0,1457.9 721.0,1458.0 723.0,1458.1 725.0,1458.2 727.0,1458.3 729.0,1458.4 731.0,1458.5 733.0,1458.6 735.0,1458.7 737.0,1458.7 739.0,1458.8 741.0,1458.9 743.0,1459.0 745.0,1459.0 747.0,1459.1 749.0,1459.2 751.0,1459.2 753.0,1459.3 755.0,1459.3 757.0,1459.4 759.0,1459.4 761.0,1459.5 763.0,1459.5 765.0,1459.6 767.0,1459.6 769.0,1459.7 771.0,1459.7 773.0,1459.8 775.0,1459.8 777.0,1459.9 779.0,1459.9 781.0,1459.9 783.0,1460.0 785.0,1460.0 787.0,1460.0 789.0,1460.1 791.0,1460.1 793.0,1460.1 795.0,1460.2 797.0,1460.2 799.0,1460.2 801.0,1460.3 803.0,1460.3 805.0,1460.3 807.0,1460.3 809.0,1460.3 811.0,1460.4 813.0,1460.4 815.0,1460.4 817.0,1460.4 819.0,1460.4 821.0,1460.5 823.0,1460.5 825.0,1460.5 827.0,1460.5 829.0,1460.5 831.0,1460.5 833.0,1460.5 835.0,1460.6 837.0,1460.6 839.0,1460.6 841.0,1460.6 843.0,1460.6 845.0,1460.6 847.0,1460.6 849.0,1460.6 851.0,1460.6 853.0,1460.6 855.0,1460.6 857.0,1460.7 859.0,1460.7 861.0,1460.7 863.0,1460.7 865.0,1460.7 867.0,1460.7 869.0,1460.7 871.0,1460.7 873.0,1460.7 875.0,1460.7 877.0,1460.7 879.0,1460.7 881.0,1460.7 883.0,1460.8 885.0,1460.8 887.0,1460.8 889.0,1460.8 891.0,1460.8 893.0,1460.8 895.0,1460.8 897.0,1460.8 899.0,1460.8 901.0,1460.8 903.0,1460.8 905.0,1460.8 907.0,1460.8 909.0,1460.9 911.0,1460.9 913.0,1460.9 915.0,1460.9 917.0,1460.9 919.0,1460.9 921.0,1460.9 923.0,1460.9 925.0,1460.9 927.0,1460.9 929.0,1460.9 931.0,1460.9 933.0,1460.9 935.0,1461.0 937.0,1461.0 939.0,1461.0 941.0,1461.0 943.0,1461.0 945.0,1461.0 947.0,1461.0 949.0,1461.0 951.0,1461.0 953.0,1461.0 955.0,1461.0 957.0,1461.0 959.0,1461.1 961.0,1461.1 963.0,1461.1 965.0,1461.1 967.0,1461.1 969.0,1461.1 971.0,1461.1 973.0,1461.1 975.0,1461.1 977.0,1461.1 979.0,1461.1 981.0,1461.1 983.0,1461.1 985.0,1461.2 987.0,1461.2 989.0,1461.2 991.0,1461.2 993.0,1461.2 995.0,1461.2 997.0,1461.2 999.0,1461.2 1001.0,1461.2 1003.0,1461.2 1005.0,1461.2 1007.0,1461.2 1009.0,1461.2 1011.0,1461.3 1013.0,1461.3 1015.0,1461.3 1017.0,1461.3 1019.0,1461.3 1021.0,1461.3 1023.0,1461.3 1025.0,1461.3 1027.0,1461.3 1029.0,1461.3 1031.0,1461.3 1033.0,1461.3 1035.0,1461.3 1037.0,1461.4 1039.0,1461.4 1041.0,1461.4 1043.0,1461.4 1045.0,1461.4 1047.0,1461.4 1049.0,1461.4 1051.0,1461.4 1053.0,1461.4 1055.0,1461.4 1057.0,1461.4 1059.0,1461.4 1061.0,1461.4 1063.0,1461.5 1065.0,1461.5 1067.0,1461.5 1069.0,1461.5 1071.0,1461.5 1073.0,1461.5 1075.0,1461.5 1077.0,1461.5 1079.0,1461.5 1081.0,1461.5 1083.0,1461.5 1085.0,1461.5 1087.0,1461.6 1089.0,1461.6 1091.0,1461.6 1093.0,1461.6 1095.0,1461.6 1097.0,1461.6 1099.0,1461.6 1101.0,1461.6 1103.0,1461.6 1105.0,1461.6 1107.0,1461.6 1109.0,1461.6 1111.0,1461.6 1113.0,1461.7 1115.0,1461.7 1117.0,1461.7 1119.0,1461.7 1121.0,1461.7 1123.0,1461.7 1125.0,1461.7 1127.0,1461.7 1129.0,1461.7 1131.0,1461.7 1133.0,1461.7 1135.0,1461.7 1137.0,1461.7 1139.0,1461.8 1141.0,1461.8 1143.0,1461.8 1145.0,1461.8 1147.0,1461.8 1149.0,1461.8 1151.0,1461.8 1153.0,1461.8 1155.0,1461.8 1157.0,1461.8 1159.0,1461.8 1161.0,1461.8 1163.0,1461.9 1165.0,1461.9 1167.0,1461.9 1169.0,1461.9 1171.0,1461.9 1173.0,1461.9 1175.0,1461.9 1177.0,1461.9 1179.0,1461.9 1181.0,1461.9 1183.0,1461.9 1185.0,1462.0 1187.0,1462.0 1189.0,1462.0 1191.0,1462.0 1193.0,1462.0 1195.0,1462.0 1197.0,1462.0 1199.0,1462.0 1201.0,1462.0 1203.0,1462.0 1205.0,1462.1 1207.0,1462.1 1209.0,1462.1 1211.0,1462.1 1213.0,1462.1 1215.0,1462.1 1217.0,1462.1 1219.0,1462.1 1221.0,1462.1 1223.0,1462.2 1225.0,1462.2 1227.0,1462.2 1229.0,1462.2 1231.0,1462.2 1233.0,1462.2 1235.0,1462.2 1237.0,1462.2 1239.0,1462.2 1241.0,1462.2 1243.0,1462.3 1245.0,1462.3 1247.0,1462.3 1249.0,1462.3 1251.0,1462.3 1253.0,1462.3 1255.0,1462.3 1257.0,1462.3 1259.0,1462.3 1261.0,1462.3 1263.0,1462.3 1265.0,1462.4 1267.0,1462.4 1269.0,1462.4 1271.0,1462.4 1273.0,1462.4 1275.0,1462.4 1277.0,1462.4 1279.0,1462.4 1281.0,1462.4 1283.0,1462.4 1285.0,1462.4 1287.0,1462.4 1289.0,1462.5 1291.0,1462.5 1293.0,1462.5 1295.0,1462.5 1297.0,1462.5 1299.0,1462.5 1301.0,1462.5 1303.0,1462.5 1305.0,1462.5 1307.0,1462.5 1309.0,1462.5 1311.0,1462.5 1313.0,1462.5 1315.0,1462.6 1317.0,1462.6 1319.0,1462.6 1321.0,1462.6 1323.0,1462.6 1325.0,1462.6 1327.0,1462.6 1329.0,1462.6 1331.0,1462.6 1333.0,1462.6 1335.0,1462.6 1337.0,1462.6 1339.0,1462.6 1341.0,1462.6 1343.0,1462.7 1345.0,1462.7 1347.0,1462.7 1349.0,1462.7 1351.0,1462.7 1353.0,1462.7 1355.0,1462.7" fill="none" stroke="#0000ff" stroke-opacity="0.8" stroke-width="1.6" stroke-dasharray="7.7 8.4"/>
<text transform="translate(1389.0 215.6) scale(1 1.02)" text-anchor="end" font-size="68.6" fill="#cc0000"><tspan dy="0" font-size="68.6">Au(C</tspan><tspan dy="18.333333333333332" font-size="47.5">6</tspan><tspan dy="-18.333333333333332" font-size="68.6">H</tspan><tspan dy="18.333333333333332" font-size="47.5">6</tspan><tspan dy="-18.333333333333332" font-size="68.6">)</tspan><tspan dy="18.333333333333332" font-size="47.5">n</tspan><tspan dy="-46.666666666666664" font-size="47.5">+</tspan></text>
<text transform="translate(1386 555) scale(1 1.02)" text-anchor="end" font-size="68.6" fill="#b85a10"><tspan dy="0" font-size="68.6">Au(C</tspan><tspan dy="18.333333333333332" font-size="47.5">3</tspan><tspan dy="-18.333333333333332" font-size="68.6">H</tspan><tspan dy="18.333333333333332" font-size="47.5">4</tspan><tspan dy="-18.333333333333332" font-size="68.6">N</tspan><tspan dy="18.333333333333332" font-size="47.5">2</tspan><tspan dy="-18.333333333333332" font-size="68.6">)</tspan><tspan dy="18.333333333333332" font-size="47.5">n</tspan><tspan dy="-46.666666666666664" font-size="47.5">+</tspan></text>
<text transform="translate(1383 904) scale(1 1.02)" text-anchor="end" font-size="68.6" fill="#800080"><tspan dy="0" font-size="68.6">Au(C</tspan><tspan dy="18.333333333333332" font-size="47.5">10</tspan><tspan dy="-18.333333333333332" font-size="68.6">H</tspan><tspan dy="18.333333333333332" font-size="47.5">16</tspan><tspan dy="-18.333333333333332" font-size="68.6">)</tspan><tspan dy="18.333333333333332" font-size="47.5">n</tspan><tspan dy="-46.666666666666664" font-size="47.5">+</tspan></text>
<text transform="translate(1398 1255) scale(1 1.02)" text-anchor="end" font-size="68.6" fill="#2040ff"><tspan dy="0" font-size="68.6">Au(C</tspan><tspan dy="18.333333333333332" font-size="47.5">60</tspan><tspan dy="-18.333333333333332" font-size="68.6">)</tspan><tspan dy="18.333333333333332" font-size="47.5">n</tspan><tspan dy="-46.666666666666664" font-size="47.5">+</tspan></text>
</svg>
</body></html>
